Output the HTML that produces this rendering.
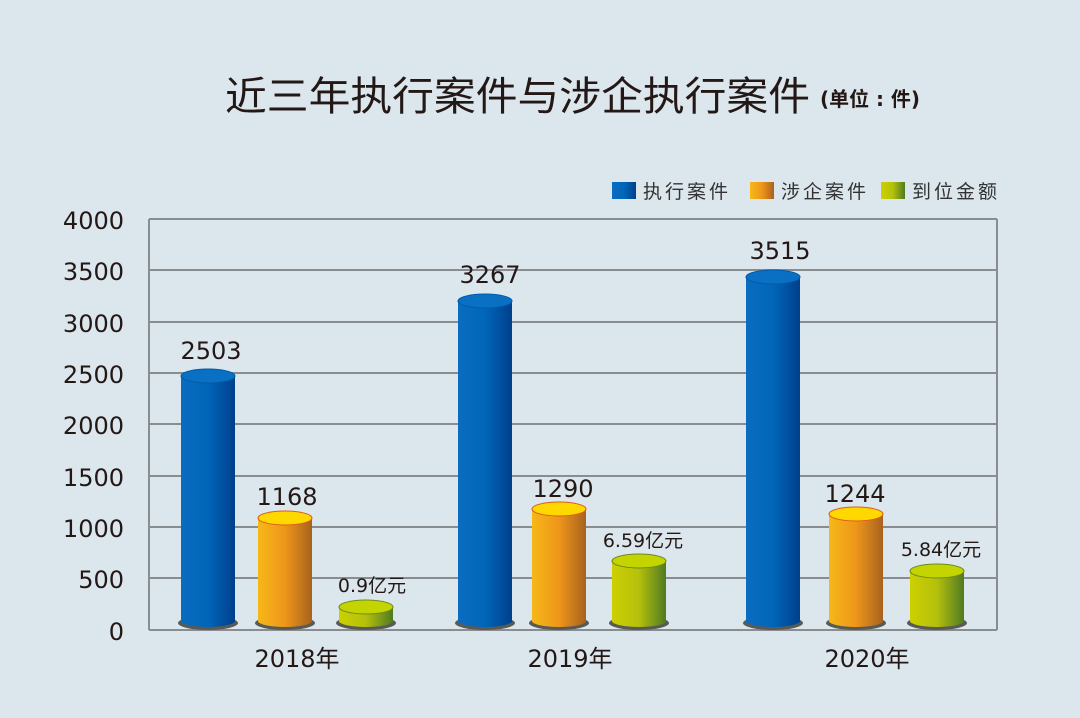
<!DOCTYPE html>
<html><head><meta charset="utf-8"><style>
html,body{margin:0;padding:0;background:#dce6ed;}
svg{display:block;font-family:"DejaVu Sans","Noto Sans CJK SC",sans-serif;}
</style></head><body>
<svg width="1080" height="718" viewBox="0 0 1080 718">
<defs>
<linearGradient id="b" x1="0" x2="1"><stop offset="0" stop-color="#0a6cc0"/><stop offset="0.5" stop-color="#0066b8"/><stop offset="1" stop-color="#003f8c"/></linearGradient>
<linearGradient id="o" x1="0" x2="1"><stop offset="0" stop-color="#f6b818"/><stop offset="0.5" stop-color="#ee961a"/><stop offset="1" stop-color="#a8621e"/></linearGradient>
<linearGradient id="g" x1="0" x2="1"><stop offset="0" stop-color="#cdd000"/><stop offset="0.5" stop-color="#b4c00c"/><stop offset="1" stop-color="#4f7a22"/></linearGradient>
</defs>
<rect width="1080" height="718" fill="#dce6ed"/>
<text x="225" y="110" font-size="40" fill="#231815" textLength="585" lengthAdjust="spacingAndGlyphs">近三年执行案件与涉企执行案件</text>
<text x="820" y="106" font-size="20" font-weight="bold" fill="#231815" textLength="100" lengthAdjust="spacingAndGlyphs">(单位 : 件)</text>
<!-- legend -->
<rect x="612" y="182" width="24" height="17" fill="url(#b)"/>
<text x="643" y="198" font-size="19" fill="#333" letter-spacing="3">执行案件</text>
<rect x="750" y="182" width="24" height="17" fill="url(#o)"/>
<text x="781" y="198" font-size="19" fill="#333" letter-spacing="3">涉企案件</text>
<rect x="881" y="182" width="24" height="17" fill="url(#g)"/>
<text x="912" y="198" font-size="19" fill="#333" letter-spacing="3">到位金额</text>
<!-- grid -->
<g stroke="#8a8d90" stroke-width="2">
<line x1="149" y1="219" x2="997" y2="219"/><line x1="149" y1="270" x2="997" y2="270"/>
<line x1="149" y1="322" x2="997" y2="322"/><line x1="149" y1="373" x2="997" y2="373"/>
<line x1="149" y1="424" x2="997" y2="424"/><line x1="149" y1="476" x2="997" y2="476"/>
<line x1="149" y1="527" x2="997" y2="527"/><line x1="149" y1="578" x2="997" y2="578"/>
<line x1="149" y1="630" x2="997" y2="630"/>
<line x1="149" y1="219" x2="149" y2="630"/><line x1="997" y1="219" x2="997" y2="630"/>
</g>
<g font-size="24" fill="#231815" text-anchor="end">
<text x="124" y="229">4000</text><text x="124" y="280">3500</text><text x="124" y="332">3000</text>
<text x="124" y="383">2500</text><text x="124" y="434">2000</text><text x="124" y="486">1500</text>
<text x="124" y="537">1000</text><text x="124" y="588">500</text><text x="124" y="640">0</text>
</g>
<g>
<ellipse cx="208" cy="623" rx="30" ry="7" fill="#5a5a55"/>
<path d="M181 376 V621 A27 6 0 0 0 235 621 V376 Z" fill="url(#b)"/>
<ellipse cx="208" cy="376" rx="27" ry="7" fill="#0a70c4" stroke="#005aa8"/>
<ellipse cx="285" cy="623" rx="30" ry="7" fill="#5a5a55"/>
<path d="M258 518 V621 A27 6 0 0 0 312 621 V518 Z" fill="url(#o)"/>
<ellipse cx="285" cy="518" rx="27" ry="7" fill="#ffd800" stroke="#e05a1a"/>
<ellipse cx="366" cy="623" rx="30" ry="7" fill="#5a5a55"/>
<path d="M339 607 V621 A27 6 0 0 0 393 621 V607 Z" fill="url(#g)"/>
<ellipse cx="366" cy="607" rx="27" ry="7" fill="#c3d400" stroke="#6a8a20"/>
<ellipse cx="485" cy="623" rx="30" ry="7" fill="#5a5a55"/>
<path d="M458 301 V621 A27 6 0 0 0 512 621 V301 Z" fill="url(#b)"/>
<ellipse cx="485" cy="301" rx="27" ry="7" fill="#0a70c4" stroke="#005aa8"/>
<ellipse cx="559" cy="623" rx="30" ry="7" fill="#5a5a55"/>
<path d="M532 509 V621 A27 6 0 0 0 586 621 V509 Z" fill="url(#o)"/>
<ellipse cx="559" cy="509" rx="27" ry="7" fill="#ffd800" stroke="#e05a1a"/>
<ellipse cx="639" cy="623" rx="30" ry="7" fill="#5a5a55"/>
<path d="M612 561 V621 A27 6 0 0 0 666 621 V561 Z" fill="url(#g)"/>
<ellipse cx="639" cy="561" rx="27" ry="7" fill="#c3d400" stroke="#6a8a20"/>
<ellipse cx="773" cy="623" rx="30" ry="7" fill="#5a5a55"/>
<path d="M746 277 V621 A27 6 0 0 0 800 621 V277 Z" fill="url(#b)"/>
<ellipse cx="773" cy="277" rx="27" ry="7" fill="#0a70c4" stroke="#005aa8"/>
<ellipse cx="856" cy="623" rx="30" ry="7" fill="#5a5a55"/>
<path d="M829 514 V621 A27 6 0 0 0 883 621 V514 Z" fill="url(#o)"/>
<ellipse cx="856" cy="514" rx="27" ry="7" fill="#ffd800" stroke="#e05a1a"/>
<ellipse cx="937" cy="623" rx="30" ry="7" fill="#5a5a55"/>
<path d="M910 571 V621 A27 6 0 0 0 964 621 V571 Z" fill="url(#g)"/>
<ellipse cx="937" cy="571" rx="27" ry="7" fill="#c3d400" stroke="#6a8a20"/>
</g>
<g font-size="24" fill="#231815" text-anchor="middle">
<text x="211" y="359">2503</text><text x="287" y="505">1168</text>
<text x="490" y="283">3267</text><text x="563" y="497">1290</text>
<text x="780" y="259">3515</text><text x="855" y="502">1244</text>
</g>
<g font-size="19" fill="#231815" text-anchor="middle">
<text x="372" y="592">0.9亿元</text>
<text x="643" y="547">6.59亿元</text>
<text x="941" y="556">5.84亿元</text>
</g>
<g font-size="24" fill="#231815" text-anchor="middle">
<text x="297" y="667">2018年</text><text x="570" y="667">2019年</text><text x="867" y="667">2020年</text>
</g>
</svg>
</body></html>
